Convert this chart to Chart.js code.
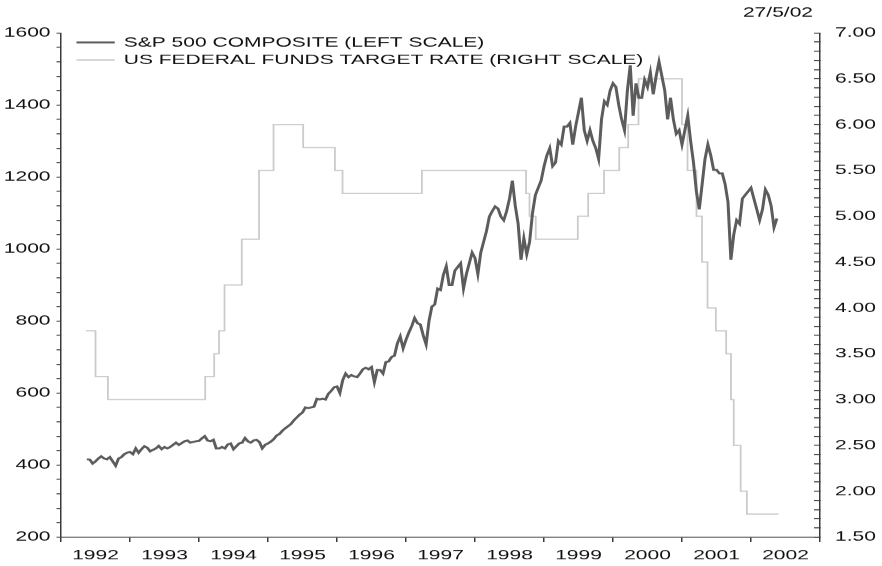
<!DOCTYPE html>
<html>
<head>
<meta charset="utf-8">
<script src="https://cdn.jsdelivr.net/npm/chart.js@4.4.1/dist/chart.umd.min.js"></script>
<style>
  html, body { margin: 0; padding: 0; background: #fff; }
  /* the original print is stretched sideways, so draw narrow and widen it */
  #wrap { width: 588px; height: 566px; transform: scaleX(1.5); transform-origin: 0 0; }
</style>
</head>
<body>
<div id="wrap"><canvas id="myChart" width="588" height="566"></canvas></div>
<script>
// S&P 500 composite, read twice a month (1st and 16th), mid May 1992 .. mid May 2002
const spStart = 1992.375
const sp1992 = [416, 415, 404, 410, 418, 424, 418, 416, 422, 410, 398, 418, 422, 430, 434]
const sp1993 = [436, 430, 446, 434, 444, 452, 448, 438, 442, 446, 453, 444, 450, 446, 450, 456, 462, 456, 461, 466, 468, 462, 464, 466]
const sp1994 = [467, 474, 480, 468, 466, 470, 446, 446, 450, 446, 457, 460, 444, 452, 460, 462, 475, 466, 462, 468, 470, 464, 446, 456]
const sp1995 = [460, 465, 472, 482, 486, 495, 502, 508, 514, 524, 532, 540, 546, 560, 558, 560, 562, 584, 582, 584, 582, 598, 606, 616]
const sp1996 = [618, 600, 636, 654, 644, 650, 646, 644, 654, 666, 670, 666, 672, 630, 664, 664, 654, 686, 688, 700, 704, 738, 757, 724]
const sp1997 = [748, 768, 786, 808, 794, 790, 760, 735, 800, 840, 846, 890, 886, 928, 952, 900, 900, 940, 950, 960, 890, 930, 960, 990]
const sp1998 = [975, 930, 990, 1020, 1050, 1090, 1105, 1118, 1112, 1090, 1080, 1105, 1140, 1190, 1120, 1070, 970, 1030, 985, 1020, 1100, 1150, 1170, 1190]
const sp1999 = [1229, 1260, 1280, 1230, 1240, 1300, 1290, 1340, 1340, 1350, 1290, 1340, 1380, 1420, 1330, 1300, 1330, 1300, 1280, 1250, 1360, 1410, 1400, 1440]
const sp2000 = [1460, 1450, 1400, 1360, 1330, 1440, 1510, 1370, 1460, 1420, 1420, 1470, 1450, 1490, 1430, 1480, 1520, 1480, 1440, 1360, 1420, 1360, 1320, 1330]
const sp2001 = [1290, 1330, 1370, 1300, 1240, 1160, 1110, 1180, 1250, 1290, 1260, 1220, 1220, 1210, 1210, 1180, 1130, 970, 1040, 1080, 1070, 1140, 1150, 1160]
const sp2002 = [1170, 1140, 1110, 1080, 1110, 1165, 1150, 1120, 1060, 1085]
const spValues = [].concat(sp1992, sp1993, sp1994, sp1995, sp1996, sp1997, sp1998, sp1999, sp2000, sp2001, sp2002)

// fed funds target rate: date of each change (decimal year) and the new level
const fedDates = [1992.36, 1992.50, 1992.68, 1994.09, 1994.22, 1994.29, 1994.37, 1994.62, 1994.87, 1995.08,
  1995.51, 1995.97, 1996.08, 1997.23, 1998.74, 1998.79, 1998.88, 1999.49, 1999.64, 1999.87,
  2000.09, 2000.22, 2000.37, 2001.00, 2001.08, 2001.21, 2001.29, 2001.37, 2001.49, 2001.64,
  2001.71, 2001.75, 2001.85, 2001.94, 2002.40]
const fedRates = [3.75, 3.25, 3.00, 3.25, 3.50, 3.75, 4.25, 4.75, 5.50, 6.00,
  5.75, 5.50, 5.25, 5.50, 5.25, 5.00, 4.75, 5.00, 5.25, 5.50,
  5.75, 6.00, 6.50, 6.00, 5.50, 5.00, 4.50, 4.00, 3.75, 3.50,
  3.00, 2.50, 2.00, 1.75, 1.75]

const years = [1992, 1993, 1994, 1995, 1996, 1997, 1998, 1999, 2000, 2001, 2002]
const seriesNames = ['S&P 500 COMPOSITE (LEFT SCALE)', 'US FEDERAL FUNDS TARGET RATE (RIGHT SCALE)']
const dateStamp = '27/5/02'

const FONT = '14px "Liberation Sans", Arial, sans-serif'
Chart.defaults.font.family = '"Liberation Sans", Arial, sans-serif'
Chart.defaults.font.size = 14
Chart.defaults.color = '#111'

const spPoints = spValues.map((v, i) => ({ x: spStart + i / 24, y: v }))
const fedPoints = fedDates.map((d, i) => ({ x: d, y: fedRates[i] }))

// legend lines + the date in the corner
const notesPlugin = {
  id: 'notes',
  afterDraw(chart) {
    const ctx = chart.ctx
    ctx.save()
    ctx.font = FONT
    ctx.textBaseline = 'middle'
    chart.data.datasets.forEach((ds, i) => {
      const y = 42.5 + i * 17.5
      ctx.strokeStyle = ds.borderColor
      ctx.lineWidth = ds.borderWidth
      ctx.beginPath()
      ctx.moveTo(51, y)
      ctx.lineTo(76.5, y)
      ctx.stroke()
      ctx.fillStyle = '#111'
      ctx.fillText(ds.label, 82.5, y)
    })
    ctx.textAlign = 'right'
    ctx.fillText(dateStamp, 542, 13)
    ctx.restore()
  }
}

const axisColor = '#3a3a3a'

new Chart(document.getElementById('myChart').getContext('2d'), {
  type: 'line',
  data: {
    datasets: [
      {
        label: seriesNames[0],
        data: spPoints,
        borderColor: '#5c5c5c',
        borderWidth: 2,
        pointRadius: 0,
        yAxisID: 'y'
      },
      {
        label: seriesNames[1],
        data: fedPoints,
        borderColor: '#cbcbcb',
        borderWidth: 1.2,
        pointRadius: 0,
        stepped: 'before',
        yAxisID: 'y2'
      }
    ]
  },
  options: {
    responsive: false,
    animation: false,
    devicePixelRatio: 1.5,
    layout: { padding: { top: 33, left: 0, right: 0, bottom: 0 } },
    plugins: { legend: { display: false }, tooltip: { enabled: false } },
    scales: {
      x: {
        type: 'linear',
        min: 1992,
        max: 2003,
        afterBuildTicks: axis => {
          const t = []
          years.forEach(y => { t.push({ value: y }); t.push({ value: y + 0.5 }) })
          t.push({ value: years[years.length - 1] + 1 })
          axis.ticks = t
        },
        afterFit: s => { s.height = 29 },
        ticks: {
          autoSkip: false,
          maxRotation: 0,
          padding: 5,
          callback: v => Number.isInteger(v) ? '' : String(Math.floor(v))
        },
        grid: {
          drawOnChartArea: false,
          tickLength: 5,
          color: c => (c.tick && Number.isInteger(c.tick.value)) ? axisColor : 'rgba(0,0,0,0)'
        },
        border: { color: axisColor, width: 1 }
      },
      y: {
        position: 'left',
        min: 200,
        max: 1600,
        afterFit: s => { s.width = 40.67 },
        ticks: {
          stepSize: 40,
          autoSkip: false,
          padding: 4,
          callback: v => v % 200 === 0 ? String(v) : ''
        },
        grid: { drawOnChartArea: false, tickLength: 3, color: axisColor },
        border: { color: axisColor, width: 1 }
      },
      y2: {
        position: 'right',
        min: 1.5,
        max: 7,
        afterFit: s => { s.width = 41.33 },
        ticks: {
          stepSize: 0.1,
          autoSkip: false,
          padding: 14,
          callback: v => Math.abs(v * 2 - Math.round(v * 2)) < 1e-6 ? v.toFixed(2) : ''
        },
        // ticks on this side point into the plot
        grid: { drawOnChartArea: false, tickLength: -4, color: axisColor },
        border: { color: axisColor, width: 1 }
      }
    }
  },
  plugins: [notesPlugin]
})
</script>
</body>
</html>
